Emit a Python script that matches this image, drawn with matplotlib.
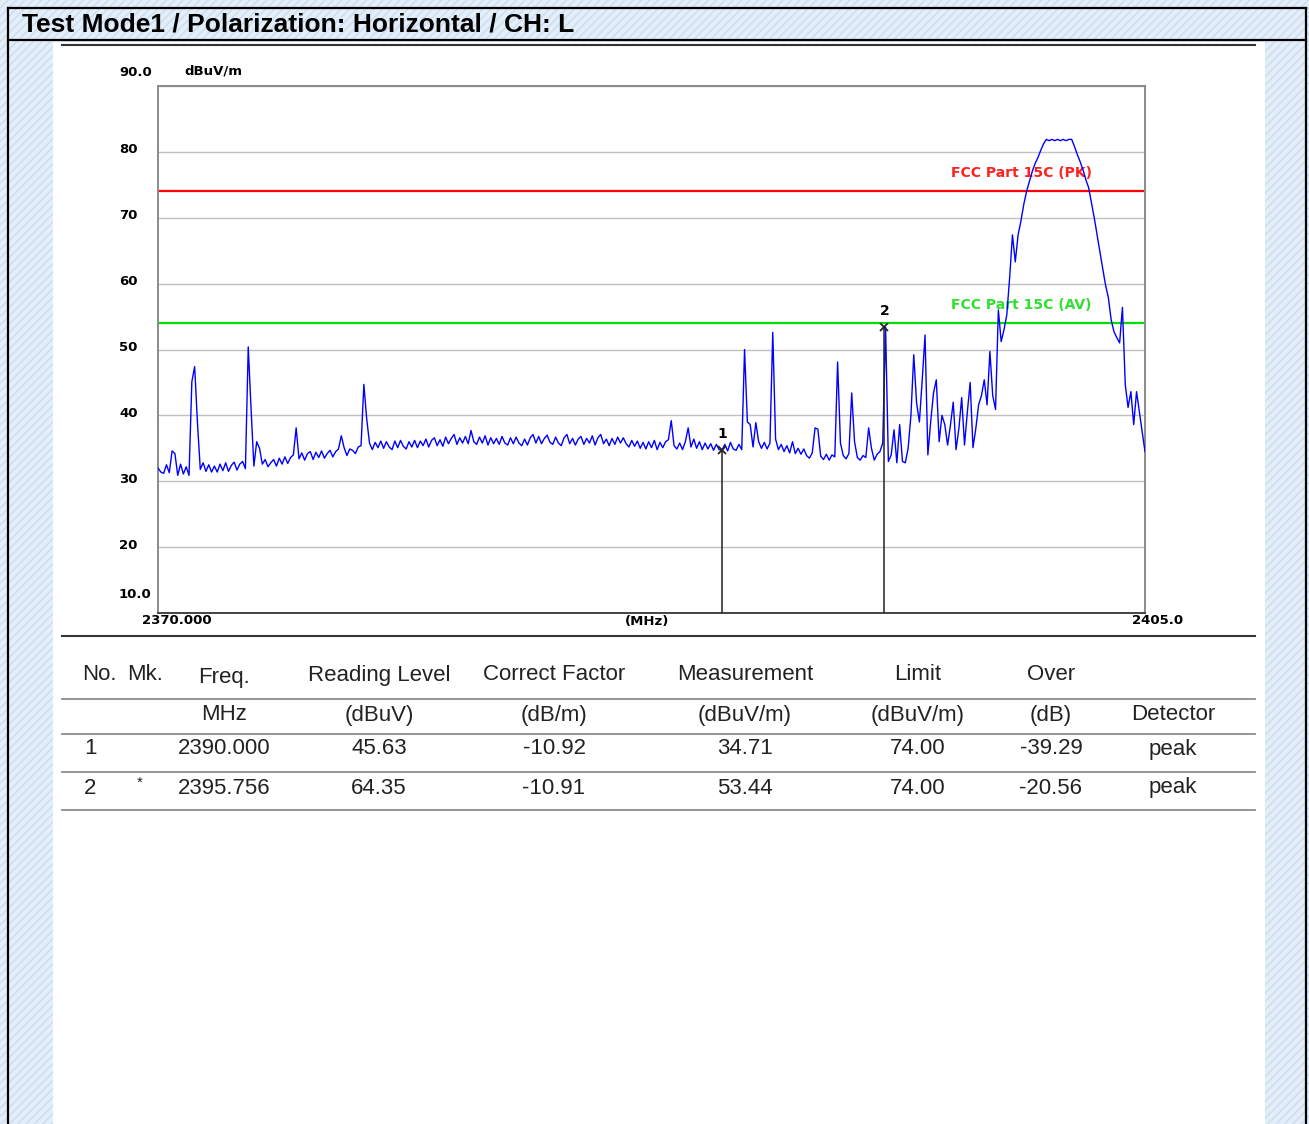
import numpy as np
import matplotlib.pyplot as plt
from matplotlib.patches import Rectangle
from matplotlib.lines import Line2D

W, H = 1309, 1124

# spectrum analyzer sweep, 0.1 MHz per point
sweep_start, sweep_stop = 2370.0, 2405.0
level_dbuv = [
    32.0, 31.4, 31.2, 32.5, 31.3, 34.6, 34.2, 30.9, 32.6, 31.1,  # 2370
    32.2, 30.9, 45.1, 47.4, 38.8, 31.8, 32.8, 31.5, 32.5, 31.4,  # 2371
    32.3, 31.4, 32.6, 31.6, 32.8, 31.5, 32.4, 32.9, 31.7, 32.6,  # 2372
    33.0, 31.9, 50.4, 41.0, 32.3, 36.0, 35.0, 32.6, 33.3, 32.2,  # 2373
    32.8, 33.3, 32.3, 33.5, 32.6, 33.7, 32.7, 33.6, 34.0, 38.1,  # 2374
    33.4, 34.3, 33.2, 34.2, 34.5, 33.3, 34.4, 33.6, 34.6, 33.5,  # 2375
    34.2, 34.7, 33.7, 34.5, 34.9, 36.9, 35.1, 33.9, 34.9, 34.7,  # 2376
    34.2, 35.2, 35.4, 44.7, 39.5, 35.8, 34.8, 35.9, 35.1, 36.1,  # 2377
    35.0, 36.0, 35.2, 34.8, 36.1, 35.1, 36.2, 35.3, 34.9, 36.0,  # 2378
    35.2, 36.2, 35.1, 36.1, 35.4, 36.4, 35.2, 36.2, 36.6, 35.4,  # 2379
    36.3, 35.3, 36.7, 35.7, 36.5, 37.1, 35.6, 36.6, 35.8, 36.8,  # 2380
    35.7, 37.7, 36.0, 35.6, 36.7, 35.8, 36.9, 35.5, 36.6, 35.7,  # 2381
    36.5, 35.6, 36.8, 35.8, 35.5, 36.6, 35.7, 36.7, 35.8, 35.4,  # 2382
    36.4, 35.5, 36.6, 37.1, 35.8, 36.8, 35.7, 36.5, 37.0, 35.9,  # 2383
    35.6, 36.7, 35.8, 35.4, 36.6, 37.1, 35.7, 36.5, 35.5, 36.4,  # 2384
    36.8, 35.6, 36.5, 35.8, 36.9, 35.5, 36.6, 37.1, 35.7, 36.4,  # 2385
    35.4, 36.5, 35.6, 36.7, 35.8, 36.6, 35.7, 35.2, 36.2, 35.3,  # 2386
    36.1, 35.0, 35.9, 34.9, 36.0, 35.1, 36.2, 34.8, 35.9, 35.1,  # 2387
    36.0, 36.3, 39.2, 35.4, 34.9, 35.8, 34.8, 36.0, 38.1, 35.2,  # 2388
    36.4, 35.0, 36.0, 34.8, 35.8, 34.9, 35.7, 34.7, 35.6, 34.8,  # 2389
    34.7, 35.6, 34.6, 35.9, 34.9, 34.7, 35.6, 34.8, 50.0, 39.0,  # 2390
    38.6, 35.2, 38.9, 36.0, 35.0, 35.9, 34.9, 35.8, 52.6, 36.4,  # 2391
    34.8, 35.6, 34.5, 35.4, 34.3, 36.0, 34.2, 35.0, 34.1, 34.9,  # 2392
    33.9, 33.5, 34.3, 38.1, 37.9, 33.8, 33.3, 34.1, 33.2, 34.0,  # 2393
    33.7, 48.1, 35.8, 33.9, 33.4, 34.2, 43.4, 36.0, 33.6, 33.2,  # 2394
    33.9, 33.6, 38.1, 35.0, 33.2, 34.1, 34.5, 35.8, 53.4, 33.0,  # 2395
    34.0, 37.8, 32.8, 38.6, 33.0, 32.8, 35.0, 40.0, 49.2, 41.9,  # 2396
    39.0, 45.4, 52.2, 34.0, 39.0, 43.4, 45.4, 36.0, 40.0, 38.6,  # 2397
    35.5, 38.5, 42.0, 34.8, 38.0, 42.7, 35.5, 40.5, 45.0, 35.1,  # 2398
    38.0, 41.6, 43.0, 45.4, 41.6, 49.7, 43.0, 40.9, 56.0, 51.2,  # 2399
    53.0, 55.3, 60.9, 67.4, 63.3, 67.4, 69.5, 72.0, 74.0, 75.5,  # 2400
    77.0, 78.2, 79.1, 80.2, 81.2, 81.9, 81.7, 81.9, 81.7, 81.9,  # 2401
    81.7, 81.9, 81.7, 81.9, 81.9, 80.8, 79.6, 78.5, 77.3, 75.8,  # 2402
    74.6, 72.3, 70.0, 67.4, 64.8, 62.3, 59.8, 57.9, 54.5, 52.7,  # 2403
    51.8, 51.0, 56.4, 44.7, 41.2, 43.6, 38.6, 43.6, 40.5, 37.5,  # 2404
    34.5,                                                        # 2405
]

limit_pk = 74.0
limit_av = 54.0
limit_pk_label = "FCC Part 15C (PK)"
limit_av_label = "FCC Part 15C (AV)"

marker_no = ["1", "2"]
marker_freq = [2390.000, 2395.756]
marker_level = [34.71, 53.44]

y_ticks = [10, 20, 30, 40, 50, 60, 70, 80, 90]
y_tick_labels = ["10.0", "20", "30", "40", "50", "60", "70", "80", "90.0"]

title = "Test Mode1 / Polarization: Horizontal / CH: L"

header_top = ["Freq.", "Reading Level", "Correct Factor", "Measurement", "Limit", "Over", ""]
header_unit = ["MHz", "(dBuV)", "(dB/m)", "(dBuV/m)", "(dBuV/m)", "(dB)", "Detector"]
row_no = ["1", "2"]
row_mk = ["", "*"]
row_values = [
    ["2390.000", "45.63", "-10.92", "34.71", "74.00", "-39.29", "peak"],
    ["2395.756", "64.35", "-10.91", "53.44", "74.00", "-20.56", "peak"],
]


def fx(x):
    return x / W


def fy(y):
    return 1 - y / H


fig = plt.figure(figsize=(W / 100, H / 100), dpi=100)
fig.patch.set_facecolor("#e3eef9")

plt.rcParams["hatch.linewidth"] = 1.0
fig.add_artist(Rectangle((0, 0), 1, 1, transform=fig.transFigure, facecolor="#e3eef9",
                         edgecolor="#cadcee", hatch="////", lw=0, zorder=-20))
fig.add_artist(Rectangle((fx(53), 0), fx(1265) - fx(53), fy(42), transform=fig.transFigure,
                         facecolor="white", edgecolor="none", zorder=-10))

# outer box and title bar
for (x0, y0, x1, y1) in [(8, 8, 1306, 8), (8, 40, 1306, 40), (8, 8, 8, H), (1306, 8, 1306, H)]:
    fig.add_artist(Line2D([fx(x0), fx(x1)], [fy(y0), fy(y1)], color="black", lw=1.6,
                          transform=fig.transFigure))
fig.text(fx(22), fy(24), title, fontsize=19, fontweight="bold", family="Liberation Sans",
         va="center", ha="left")

# rules around the plot image
for y in [45, 636]:
    fig.add_artist(Line2D([fx(62), fx(1255)], [fy(y), fy(y)], color="#333333", lw=1.5,
                          transform=fig.transFigure))

ax = fig.add_axes([fx(158), fy(613), (1145 - 158) / W, (613 - 86) / H])
freq = np.linspace(sweep_start, sweep_stop, len(level_dbuv))
ax.set_xlim(sweep_start, sweep_stop)
ax.set_ylim(10, 90)

ax.set_yticks(y_ticks)
ax.set_yticklabels([])
ax.set_xticks([])
ax.tick_params(length=0)
ax.yaxis.grid(True, color="#c0c0c0", lw=1.0)
ax.set_axisbelow(True)
for s in ax.spines.values():
    s.set_color("#8a8a8a")
    s.set_linewidth(1.4)
ax.spines["bottom"].set_color("#444444")

ax.axhline(limit_pk, color="#ff0000", lw=1.6, zorder=2)
ax.axhline(limit_av, color="#00e000", lw=1.6, zorder=2)
ax.annotate(limit_pk_label, xy=(2398.12, limit_pk), xytext=(0, 18), textcoords="offset pixels",
            color="#ff2020", fontsize=10, fontweight="bold", va="center", ha="left")
ax.annotate(limit_av_label, xy=(2398.12, limit_av), xytext=(0, 18), textcoords="offset pixels",
            color="#30e030", fontsize=10, fontweight="bold", va="center", ha="left")

ax.plot(freq, level_dbuv, color="#0000ff", lw=1.0, zorder=3)

for no, f, lv in zip(marker_no, marker_freq, marker_level):
    ax.vlines(f, 10, lv, color="#222222", lw=1.1, zorder=4)
    ax.plot(f, lv, marker="x", color="#222222", ms=6, mew=1.3, zorder=5)
    ax.annotate(no, xy=(f, lv), xytext=(0, 16), textcoords="offset pixels", fontsize=10,
                fontweight="bold", ha="center", va="center")

for t, lab in zip(y_ticks, y_tick_labels):
    if t == 90:
        dy = 13
    elif t == 10:
        dy = 18
    else:
        dy = 2
    ax.annotate(lab, xy=(0, t), xycoords=("axes fraction", "data"), xytext=(-39, dy),
                textcoords="offset pixels", fontsize=9.5, fontweight="bold",
                ha="left", va="center")

ax.annotate("dBuV/m", xy=(0, 90), xycoords=("axes fraction", "data"), xytext=(26, 15),
            textcoords="offset pixels", fontsize=9.5, fontweight="bold", ha="left", va="center")
ax.annotate("2370.000", xy=(0, 0), xycoords="axes fraction", xytext=(-16, -8),
            textcoords="offset pixels", fontsize=9.5, fontweight="bold", ha="left", va="center")
ax.annotate("2405.0", xy=(1, 0), xycoords="axes fraction", xytext=(-13, -8),
            textcoords="offset pixels", fontsize=9.5, fontweight="bold", ha="left", va="center")
ax.annotate("(MHz)", xy=(0.496, 0), xycoords="axes fraction", xytext=(0, -8),
            textcoords="offset pixels", fontsize=9.5, fontweight="bold", ha="center", va="center")

# result table
tfont = dict(fontsize=16, family="Liberation Sans", color="#222222", va="center")
col_x = [224, 379, 554, 745, 918, 1051, 1173]
fig.text(fx(82), fy(675), "No.", ha="left", **tfont)
fig.text(fx(127), fy(675), "Mk.", ha="left", **tfont)
for cx, h1, h2 in zip(col_x, header_top, header_unit):
    fig.text(fx(cx), fy(675 if h1 != "Freq." else 677), h1, ha="center", **tfont)
    fig.text(fx(cx), fy(715), h2, ha="center", **tfont)
for ry, no, mk, vals in zip([749, 788], row_no, row_mk, row_values):
    fig.text(fx(90), fy(ry), no, ha="center", **tfont)
    if mk:
        fig.text(fx(140), fy(ry - 5), mk, ha="center", fontsize=11, family="Liberation Sans",
                 color="#222222", va="center")
    for cx, v in zip(col_x, vals):
        fig.text(fx(cx), fy(ry), v, ha="center", **tfont)
for y in [699, 734, 772, 810]:
    fig.add_artist(Line2D([fx(62), fx(1255)], [fy(y), fy(y)], color="#8c8c8c", lw=1.3,
                          transform=fig.transFigure))

fig.savefig("out.png", dpi=100)
